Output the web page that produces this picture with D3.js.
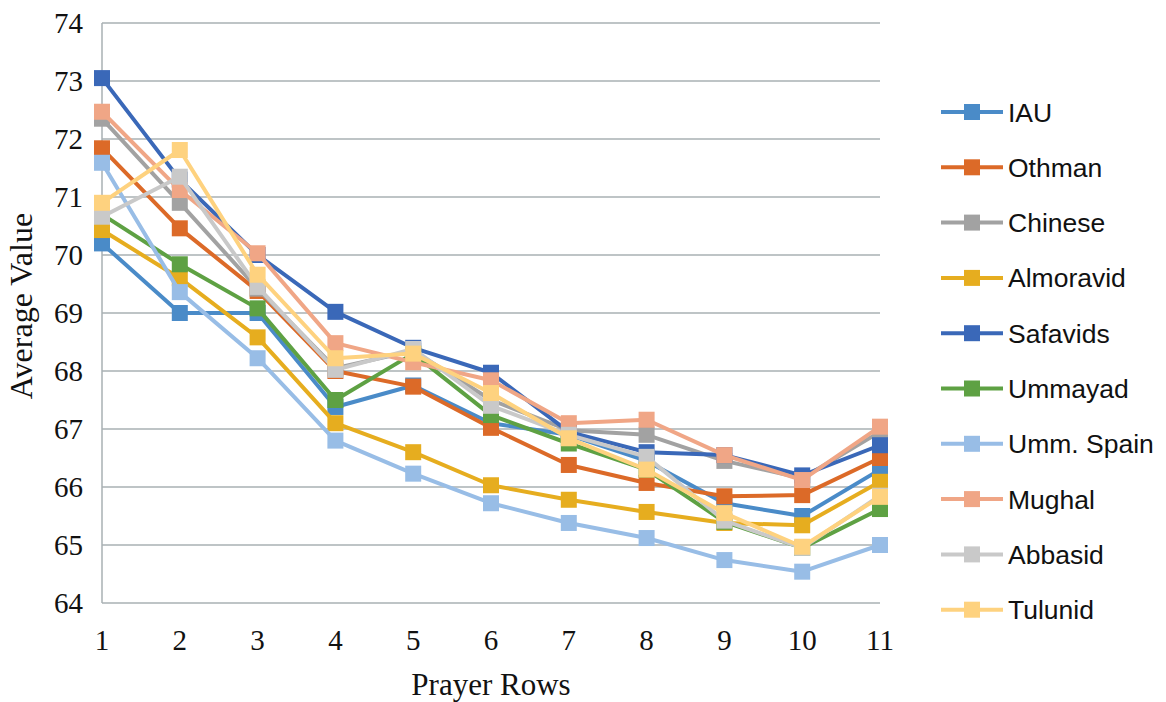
<!DOCTYPE html>
<html>
<head>
<meta charset="utf-8">
<script src="https://cdn.jsdelivr.net/npm/d3@7"></script>
<style>
  html, body { margin: 0; padding: 0; background: #fff; }
  svg { display: block; }
</style>
</head>
<body>
<svg id="chart" width="1166" height="702"></svg>
<script>
const rows = [1, 2, 3, 4, 5, 6, 7, 8, 9, 10, 11];
const yTicks = [64, 65, 66, 67, 68, 69, 70, 71, 72, 73, 74];

const seriesNames = ['IAU', 'Othman', 'Chinese', 'Almoravid', 'Safavids',
    'Ummayad', 'Umm. Spain', 'Mughal', 'Abbasid', 'Tulunid'];
const seriesColors = ['#4a8bc8', '#dc6a28', '#a2a2a2', '#e6ad1f', '#3a68b8',
    '#5ea143', '#98bde6', '#f0a686', '#c9c9c9', '#fed27f'];

const iau = [70.2, 69.0, 69.0, 67.38, 67.75, 67.1, 66.9, 66.45, 65.72, 65.5, 66.3];
const othman = [71.84, 70.46, 69.38, 68.0, 67.73, 67.02, 66.38, 66.07, 65.84, 65.86, 66.5];
const chinese = [72.35, 70.9, 69.42, 68.05, 68.35, 67.5, 66.98, 66.9, 66.45, 66.15, 66.95];
const almoravid = [70.43, 69.6, 68.58, 67.1, 66.6, 66.03, 65.78, 65.57, 65.38, 65.34, 66.09];
const safavids = [73.05, 71.3, 70.0, 69.02, 68.4, 67.97, 66.95, 66.6, 66.55, 66.2, 66.72];
const ummayad = [70.7, 69.84, 69.08, 67.5, 68.3, 67.24, 66.75, 66.3, 65.4, 64.95, 65.62];
const ummSpain = [71.59, 69.36, 68.22, 66.8, 66.23, 65.72, 65.38, 65.12, 64.74, 64.54, 65.0];
const mughal = [72.47, 71.12, 70.03, 68.48, 68.15, 67.84, 67.1, 67.16, 66.55, 66.12, 67.04];
const abbasid = [70.66, 71.35, 69.45, 68.02, 68.38, 67.4, 66.9, 66.52, 65.42, 64.95, 65.85];
const tulunid = [70.9, 71.81, 69.66, 68.22, 68.3, 67.62, 66.84, 66.3, 65.55, 64.97, 65.83];

const seriesValues = [iau, othman, chinese, almoravid, safavids,
    ummayad, ummSpain, mughal, abbasid, tulunid];

const margin = { left: 102, right: 286, top: 23, bottom: 99 };
const width = 1166;
const height = 702;
const serif = '"Liberation Serif", "Times New Roman", serif';

const svg = d3.select('#chart');

const x = d3.scaleLinear()
    .domain([1, 11])
    .range([margin.left, width - margin.right]);
const y = d3.scaleLinear()
    .domain([64, 74])
    .range([height - margin.bottom, margin.top]);

// gridlines
svg.append('g')
    .selectAll('line')
    .data(yTicks)
    .enter()
    .append('line')
    .attr('x1', margin.left)
    .attr('x2', width - margin.right)
    .attr('y1', (d) => y(d))
    .attr('y2', (d) => y(d))
    .attr('stroke', '#a9b0b3')
    .attr('stroke-width', 1.5);

// y axis line
svg.append('line')
    .attr('x1', margin.left)
    .attr('x2', margin.left)
    .attr('y1', y(74))
    .attr('y2', y(64))
    .attr('stroke', '#a9b0b3')
    .attr('stroke-width', 1.5);

// y tick labels
svg.append('g')
    .selectAll('text')
    .data(yTicks)
    .enter()
    .append('text')
    .attr('x', 83)
    .attr('y', (d) => y(d))
    .attr('dy', '0.35em')
    .attr('text-anchor', 'end')
    .attr('font-family', serif)
    .attr('font-size', '29px')
    .attr('fill', '#111')
    .text((d) => d);

// x tick labels
svg.append('g')
    .selectAll('text')
    .data(rows)
    .enter()
    .append('text')
    .attr('x', (d) => x(d))
    .attr('y', 650)
    .attr('text-anchor', 'middle')
    .attr('font-family', serif)
    .attr('font-size', '29px')
    .attr('fill', '#111')
    .text((d) => d);

// axis titles
svg.append('text')
    .attr('x', 491)
    .attr('y', 695)
    .attr('text-anchor', 'middle')
    .attr('font-family', serif)
    .attr('font-size', '31px')
    .attr('fill', '#111')
    .text('Prayer Rows');

svg.append('text')
    .attr('transform', 'translate(32, 306) rotate(-90)')
    .attr('text-anchor', 'middle')
    .attr('font-family', serif)
    .attr('font-size', '32px')
    .attr('fill', '#111')
    .text('Average Value');

// series, drawn in order so later ones sit on top
const line = d3.line()
    .x((d, i) => x(rows[i]))
    .y((d) => y(d));

const markerSize = 16;

seriesValues.forEach((vals, k) => {
    const g = svg.append('g');
    g.append('path')
        .datum(vals)
        .attr('d', line)
        .attr('fill', 'none')
        .attr('stroke', seriesColors[k])
        .attr('stroke-width', 4)
        .attr('stroke-linejoin', 'round');
    g.selectAll('rect')
        .data(vals)
        .enter()
        .append('rect')
        .attr('x', (d, i) => x(rows[i]) - markerSize / 2)
        .attr('y', (d) => y(d) - markerSize / 2)
        .attr('width', markerSize)
        .attr('height', markerSize)
        .attr('fill', seriesColors[k]);
});

// legend
const legendTop = 112;
const legendStep = 55.3;
const legend = svg.append('g')
    .selectAll('g')
    .data(seriesNames)
    .enter()
    .append('g')
    .attr('transform', (d, i) => `translate(0, ${legendTop + i * legendStep})`);

legend.append('line')
    .attr('x1', 941)
    .attr('x2', 1003)
    .attr('y1', 0)
    .attr('y2', 0)
    .attr('stroke', (d, i) => seriesColors[i])
    .attr('stroke-width', 4);

legend.append('rect')
    .attr('x', 964)
    .attr('y', -8)
    .attr('width', 16)
    .attr('height', 16)
    .attr('fill', (d, i) => seriesColors[i]);

legend.append('text')
    .attr('x', 1008)
    .attr('y', 0)
    .attr('dy', '0.36em')
    .attr('font-family', '"Liberation Sans", Arial, sans-serif')
    .attr('font-size', '26.5px')
    .attr('fill', '#111')
    .text((d) => d);
</script>
</body>
</html>
